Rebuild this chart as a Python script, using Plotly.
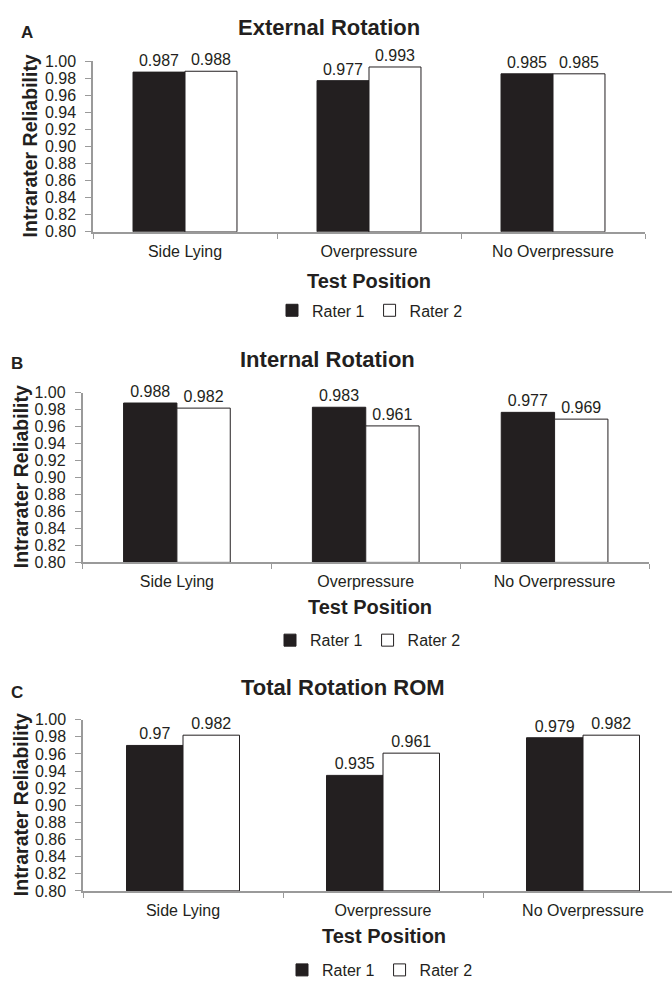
import plotly.graph_objects as go

categories = ["Side Lying", "Overpressure", "No Overpressure"]
series_names = ["Rater 1", "Rater 2"]

ext_rater1 = [0.987, 0.977, 0.985]
ext_rater2 = [0.988, 0.993, 0.985]
int_rater1 = [0.988, 0.983, 0.977]
int_rater2 = [0.982, 0.961, 0.969]
tot_rater1 = [0.970, 0.935, 0.979]
tot_rater2 = [0.982, 0.961, 0.982]

panel_titles = ["External Rotation", "Internal Rotation", "Total Rotation ROM"]
panel_letters = ["A", "B", "C"]
y_ticks = [0.80, 0.82, 0.84, 0.86, 0.88, 0.90, 0.92, 0.94, 0.96, 0.98, 1.00]
y_min = 0.80

W, H = 672, 987
FONT = "Liberation Sans, Arial, sans-serif"
INK = "#231f20"
AXIS = "#9a9a9a"

def px(x):
    return x / W

def py(y):
    return 1 - y / H

# layout geometry per panel (pixels)
panels = [
    dict(x0=93, x1=645, xr=[-0.5, 2.5], top=54, bot=228, letter=(27, 25), title=(329, 20),
         ytitle=(30, 141), xtitle=(369, 278), legend=(370, 308)),
    dict(x0=82.5, x1=649, xr=[-0.5, 2.5], top=392, bot=564.7, letter=(17, 362), title=(327, 358),
         ytitle=(21, 478), xtitle=(370, 610), legend=(368, 644)),
    dict(x0=83, x1=672, xr=[-0.5, 2.445], top=725, bot=899.3, letter=(17, 697), title=(343, 692),
         ytitle=(21, 812), xtitle=(384, 945), legend=(380, 980)),
]

data = [(ext_rater1, ext_rater2), (int_rater1, int_rater2), (tot_rater1, tot_rater2)]
colors = [INK, "white"]

fig = go.Figure()
annotations = []
layout_axes = {}

for i, (p, (r1, r2)) in enumerate(zip(panels, data)):
    n = "" if i == 0 else str(i + 1)
    xa, ya = "x" + n, "y" + n
    leg = "legend" + n
    for s, (vals, name) in enumerate(zip((r1, r2), series_names)):
        fig.add_trace(go.Bar(
            x=categories,
            y=[v - y_min for v in vals],
            base=y_min,
            name=name,
            text=[f"{v:g}" for v in vals],
            textposition="outside",
            outsidetextfont=dict(family=FONT, size=16, color=INK),
            cliponaxis=False,
            marker=dict(color=colors[s], line=dict(color=INK, width=1)),
            xaxis=xa, yaxis=ya, legend=leg,
            hoverinfo="skip",
        ))
    layout_axes["xaxis" + n] = dict(
        domain=[px(p["x0"]), px(p["x1"])], anchor=ya, type="category",
        range=p["xr"], showline=True, linecolor=AXIS, linewidth=1.5,
        ticks="outside", tickson="boundaries", ticklen=5, tickcolor=AXIS,
        ticklabelstandoff=4,
        tickfont=dict(family=FONT, size=16, color=INK), showgrid=False,
        zeroline=False, fixedrange=True,
    )
    layout_axes["yaxis" + n] = dict(
        domain=[py(p["bot"]), py(p["top"])], anchor=xa, range=[0.8, 1.0],
        tickvals=y_ticks, tickformat=".2f", showline=True, linecolor=AXIS, linewidth=1.5,
        ticks="outside", ticklen=6, tickcolor=AXIS, ticklabelstandoff=6,
        tickfont=dict(family=FONT, size=16, color=INK), showgrid=False,
        zeroline=False, fixedrange=True,
    )
    layout_axes[leg] = dict(
        x=px(p["legend"][0]), y=py(p["legend"][1]), xanchor="center", yanchor="middle",
        orientation="h", font=dict(family=FONT, size=16, color=INK),
        itemwidth=30, bgcolor="rgba(0,0,0,0)", tracegroupgap=0,
    )
    annotations += [
        dict(text="<b>%s</b>" % panel_letters[i], x=px(p["letter"][0]), y=py(p["letter"][1]),
             xref="paper", yref="paper", showarrow=False, xanchor="center", yanchor="middle",
             font=dict(family=FONT, size=17, color=INK)),
        dict(text="<b>%s</b>" % panel_titles[i], x=px(p["title"][0]), y=py(p["title"][1]),
             xref="paper", yref="paper", showarrow=False, xanchor="center", yanchor="middle",
             font=dict(family=FONT, size=22, color=INK)),
        dict(text="<b>Intrarater Reliability</b>", x=px(p["ytitle"][0]), y=py(p["ytitle"][1]),
             xref="paper", yref="paper", showarrow=False, xanchor="center", yanchor="middle",
             textangle=-90, font=dict(family=FONT, size=19.5, color=INK)),
        dict(text="<b>Test Position</b>", x=px(p["xtitle"][0]), y=py(p["xtitle"][1]),
             xref="paper", yref="paper", showarrow=False, xanchor="center", yanchor="middle",
             font=dict(family=FONT, size=20, color=INK)),
    ]

fig.update_layout(
    width=W, height=H, margin=dict(l=0, r=0, t=0, b=0),
    paper_bgcolor="white", plot_bgcolor="white",
    barmode="group", bargap=0.435, bargroupgap=0,
    annotations=annotations, showlegend=True,
    **layout_axes,
)

fig.write_html(
    "out.html",
    config={"displayModeBar": False},
    post_script="document.body.style.margin='0';document.body.style.overflow='hidden';",
)
